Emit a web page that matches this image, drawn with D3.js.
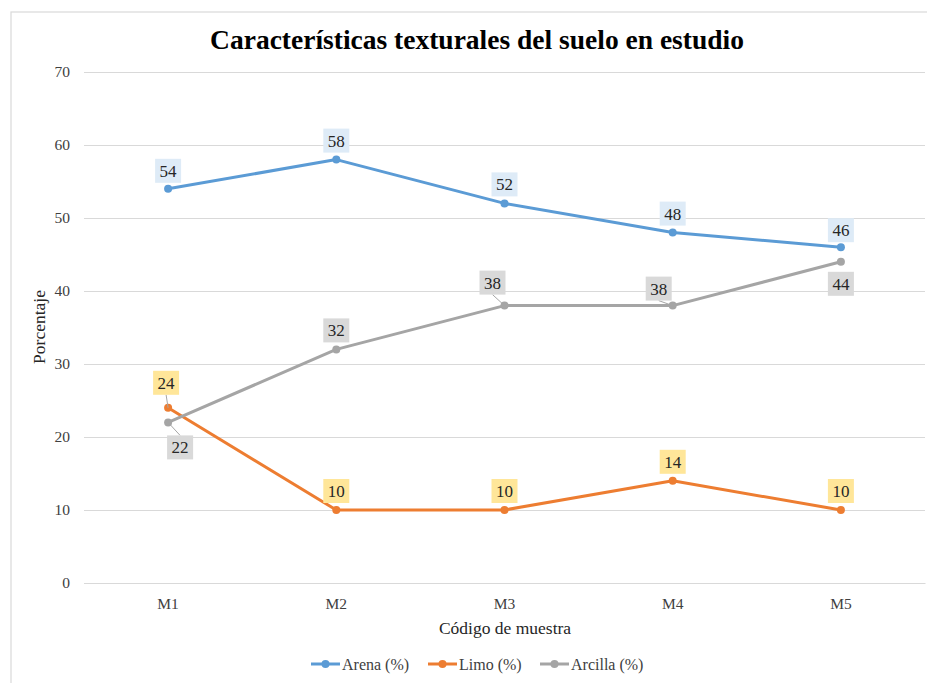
<!DOCTYPE html>
<html>
<head>
<meta charset="utf-8">
<script src="https://cdn.jsdelivr.net/npm/d3@7"></script>
<style>
  html, body { margin: 0; padding: 0; background: #fff; }
  svg { display: block; }
</style>
</head>
<body>
<svg id="chart" width="927" height="683"></svg>
<script>
// Muestras y porcentajes de cada fracción textural
const samples = ["M1", "M2", "M3", "M4", "M5"];
const arena = [54, 58, 52, 48, 46];
const limo = [24, 10, 10, 14, 10];
const arcilla = [22, 32, 38, 38, 44];
const yTicks = [0, 10, 20, 30, 40, 50, 60, 70];

const seriesNames = ["Arena (%)", "Limo (%)", "Arcilla (%)"];
const seriesColors = ["#5b9bd5", "#ed7d31", "#a5a5a5"];
const labelFills = ["#deebf7", "#ffe699", "#d9d9d9"];
// label placement per point: dx, dy from the marker (px)
const labelOffsets = [
  [[0, -18], [0, -19], [0, -19], [0, -19], [0, -17]],
  [[-2, -25], [0, -19], [0, -19], [0, -19], [0, -19]],
  [[12, 25], [0, -19], [-12, -23], [-14, -17], [0, 22]]
];
const series = [arena, limo, arcilla];
const FONT = "'Liberation Serif', 'Times New Roman', serif";

const svg = d3.select("#chart").attr("font-family", FONT);
const W = 927, H = 683;
const plot = { left: 84, right: 925, top: 72, bottom: 583 };

// outer chart border
svg.append("rect")
  .attr("x", 11).attr("y", 12).attr("width", W).attr("height", H)
  .attr("fill", "#fff").attr("stroke", "#d9d9d9").attr("stroke-width", 1.2);

const x = d3.scaleBand().domain(samples).range([plot.left, plot.right]);
const y = d3.scaleLinear().domain([0, 70]).range([plot.bottom, plot.top]);
const cx = d => x(d) + x.bandwidth() / 2;

// title
svg.append("text")
  .attr("x", 477).attr("y", 49)
  .attr("text-anchor", "middle").attr("font-family", FONT)
  .attr("font-size", 27.5).attr("font-weight", "bold").attr("fill", "#000")
  .text("Características texturales del suelo en estudio");

// gridlines + y axis
const yAxis = d3.axisLeft(y).tickValues(yTicks).tickSize(-(plot.right - plot.left)).tickPadding(14);
const gy = svg.append("g").attr("transform", `translate(${plot.left},0)`).call(yAxis)
  .attr("font-family", FONT);
gy.select(".domain").remove();
gy.selectAll(".tick line").attr("stroke", "#d9d9d9").attr("stroke-width", 1);
gy.selectAll(".tick text").attr("font-size", 15.5).attr("fill", "#404040");

// x axis
const xAxis = d3.axisBottom(x).tickSize(0).tickPadding(15);
const gx = svg.append("g").attr("transform", `translate(0,${plot.bottom})`).call(xAxis)
  .attr("font-family", FONT);
gx.select(".domain").attr("stroke", "#d9d9d9");
gx.selectAll(".tick text").attr("font-size", 15.5).attr("fill", "#404040");

// axis titles
svg.append("text")
  .attr("x", 505).attr("y", 634).attr("text-anchor", "middle")
  .attr("font-family", FONT).attr("font-size", 17.5).attr("fill", "#262626")
  .text("Código de muestra");
svg.append("text")
  .attr("transform", "translate(45,327) rotate(-90)")
  .attr("text-anchor", "middle").attr("font-family", FONT)
  .attr("font-size", 17.5).attr("fill", "#262626")
  .text("Porcentaje");

// lines and markers
const line = d3.line().x((d, i) => cx(samples[i])).y(d => y(d));
series.forEach((vals, s) => {
  svg.append("path").datum(vals)
    .attr("d", line).attr("fill", "none")
    .attr("stroke", seriesColors[s]).attr("stroke-width", 3)
    .attr("stroke-linejoin", "round").attr("stroke-linecap", "round");
  svg.append("g").selectAll("circle").data(vals).join("circle")
    .attr("cx", (d, i) => cx(samples[i])).attr("cy", d => y(d))
    .attr("r", 4).attr("fill", seriesColors[s]);
});

// data labels with leader lines
const bw = 26, bh = 24;
series.forEach((vals, s) => {
  vals.forEach((v, i) => {
    const px = cx(samples[i]), py = y(v);
    const [dx, dy] = labelOffsets[s][i];
    const lx = px + dx, ly = py + dy;
    const needsLeader = Math.abs(dx) > 4 || Math.abs(dy) > 22;
    if (needsLeader) {
      const edgeY = dy < 0 ? ly + bh / 2 : ly - bh / 2;
      svg.append("line")
        .attr("x1", lx).attr("y1", edgeY).attr("x2", px).attr("y2", py)
        .attr("stroke", "#a6a6a6").attr("stroke-width", 1);
    }
    svg.append("rect")
      .attr("x", lx - bw / 2).attr("y", ly - bh / 2)
      .attr("width", bw).attr("height", bh)
      .attr("fill", labelFills[s]);
    svg.append("text")
      .attr("x", lx).attr("y", ly + 6).attr("text-anchor", "middle")
      .attr("font-family", FONT).attr("font-size", 17).attr("fill", "#262626")
      .text(v);
  });
});

// legend
const legendX = [311, 428, 540];
const lg = svg.append("g");
seriesNames.forEach((name, s) => {
  const g = lg.append("g").attr("transform", `translate(${legendX[s]},664)`);
  g.append("line").attr("x1", 0).attr("x2", 29).attr("y1", 0).attr("y2", 0)
    .attr("stroke", seriesColors[s]).attr("stroke-width", 3);
  g.append("circle").attr("cx", 14.5).attr("cy", 0).attr("r", 4).attr("fill", seriesColors[s]);
  g.append("text").attr("x", 31).attr("y", 5.5).attr("font-family", FONT)
    .attr("font-size", 16).attr("fill", "#404040")
    .text(name);
});
</script>
</body>
</html>
